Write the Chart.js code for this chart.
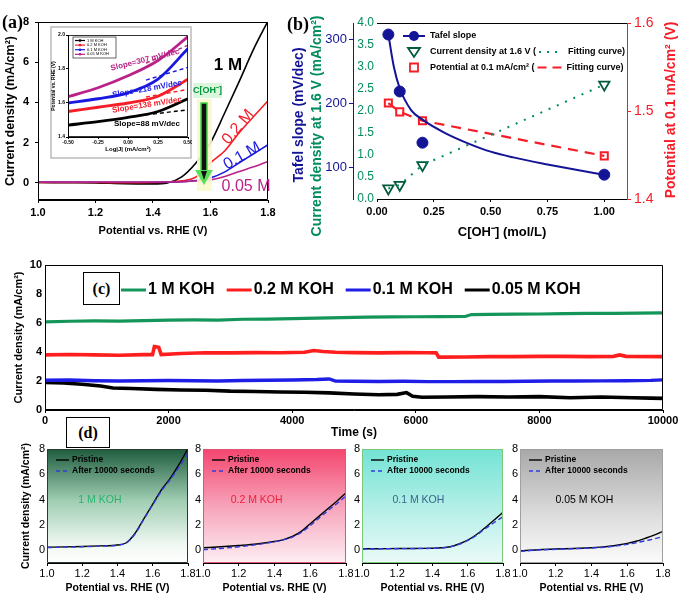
<!DOCTYPE html>
<html>
<head>
<meta charset="utf-8">
<script src="https://cdn.jsdelivr.net/npm/chart.js@4.4.1/dist/chart.umd.min.js"></script>
<style>
  body { margin: 0; background: #fff; }
  #fig { position: relative; width: 681px; height: 598px; overflow: hidden; }
  #fig canvas { position: absolute; }
  .tag { position: absolute; font: bold 18px "Liberation Serif", "Times New Roman", serif; color: #000; }
  .box { position: absolute; border: 1px solid #000; background: #fff; box-sizing: border-box;
         font: bold 16px "Liberation Serif", "Times New Roman", serif;
         display: flex; align-items: center; justify-content: center; }
</style>
</head>
<body>
<div id="fig">
  <canvas id="chartA" width="290" height="245" style="left:0;top:0"></canvas>
  <canvas id="chartInset" width="142" height="133" style="left:50px;top:26px"></canvas>
  <canvas id="chartB" width="396" height="245" style="left:285px;top:0"></canvas>
  <canvas id="chartC" width="681" height="185" style="left:0;top:255px"></canvas>
  <canvas id="chartD1" width="200" height="158" style="left:0;top:440px"></canvas>
  <canvas id="chartD2" width="165" height="158" style="left:188px;top:440px"></canvas>
  <canvas id="chartD3" width="163" height="158" style="left:347px;top:440px"></canvas>
  <canvas id="chartD4" width="176" height="158" style="left:505px;top:440px"></canvas>
  <div class="tag" style="left:2px;top:12px">(a)</div>
  <div class="tag" style="left:287px;top:14px">(b)</div>
  <div class="box" style="left:83px;top:272px;width:37px;height:33px">(c)</div>
  <div class="box" style="left:66px;top:417px;width:44px;height:31px">(d)</div>
</div>
<script>
// ---- (a) polarisation curves
const potA = [1.0, 1.1, 1.2, 1.3, 1.4, 1.45, 1.5, 1.55, 1.6, 1.65, 1.7, 1.75, 1.8];
const jA1M = [0.02, 0.01, 0.0, -0.04, -0.05, 0.0, 0.3, 1.0, 2.0, 3.5, 5.05, 6.65, 8.05];
const jA02 = [0.02, 0.02, 0.02, 0.01, 0.02, 0.04, 0.1, 0.3, 1.0, 1.6, 2.5, 3.3, 4.08];
const jA01 = [0.03, 0.03, 0.03, 0.03, 0.03, 0.04, 0.06, 0.12, 0.25, 0.55, 1.0, 1.45, 1.9];
const jA005 = [0.04, 0.04, 0.04, 0.04, 0.04, 0.05, 0.06, 0.1, 0.15, 0.32, 0.57, 0.8, 1.07];
const tickPot = [1.0, 1.2, 1.4, 1.6, 1.8];
const tickJ8 = [0, 2, 4, 6, 8];

// ---- (a) inset: Tafel plots
const logJ = [-0.5, -0.25, 0, 0.25, 0.5];
const eIn1M = [1.47, 1.49, 1.515, 1.55, 1.625];
const eIn02 = [1.55, 1.575, 1.60, 1.64, 1.74];
const eIn01 = [1.60, 1.625, 1.66, 1.74, 1.92];
const eIn005 = [1.637, 1.69, 1.76, 1.85, 1.99];
const fitInX = [0.15, 0.5];
const fitIn1M = [1.53, 1.56];
const fitIn02 = [1.635, 1.68];
const fitIn01 = [1.735, 1.81];
const fitIn005 = [1.835, 1.94];
const tickLog = [-0.5, -0.25, 0, 0.25, 0.5];
const tickE = [1.4, 1.6, 1.8, 2.0];

// ---- (b) vs concentration
const concB = [0.05, 0.1, 0.2, 1.0];
const tafelB = [307, 218, 138, 88];
const currB = [0.24, 0.32, 0.77, 2.6];
const potB = [1.509, 1.499, 1.489, 1.449];
const fitConc = [0.05, 0.075, 0.1, 0.15, 0.2, 0.3, 0.4, 0.5, 0.6, 0.75, 0.9, 1.0];
const fitTafel = [307, 255, 223, 189, 174, 153, 137, 124, 115, 104, 94, 88];
const tickConc = [0, 0.25, 0.5, 0.75, 1.0];
const tickTafel = [100, 200, 300];
const tickCurr = [0, 0.5, 1.0, 1.5, 2.0, 2.5, 3.0, 3.5, 4.0];
const tickPotB = [1.4, 1.5, 1.6];

// ---- (c) chronoamperometry
const tG = [0, 400, 800, 1200, 1600, 2000, 2400, 2800, 3200, 3600, 4000, 4400, 4800, 5200, 5600, 6000, 6400, 6800, 6900, 7200, 7600, 8000, 8400, 8800, 9200, 9600, 10000];
const vG = [6.08, 6.12, 6.14, 6.13, 6.17, 6.2, 6.21, 6.2, 6.26, 6.27, 6.3, 6.33, 6.37, 6.4, 6.42, 6.43, 6.44, 6.45, 6.58, 6.6, 6.61, 6.62, 6.64, 6.66, 6.67, 6.68, 6.7];
const tR = [0, 400, 800, 1200, 1600, 1740, 1770, 1840, 1880, 2200, 2600, 3000, 3400, 3800, 4200, 4350, 4500, 4700, 5000, 5400, 5800, 6200, 6330, 6370, 6800, 7200, 7600, 8000, 8400, 8800, 9200, 9300, 9400, 10000];
const vR = [3.8, 3.83, 3.8, 3.78, 3.82, 3.82, 4.38, 4.32, 3.82, 3.9, 3.95, 3.94, 3.96, 3.95, 3.98, 4.1, 4.03, 3.98, 3.96, 3.94, 3.96, 3.95, 3.94, 3.65, 3.66, 3.68, 3.68, 3.7, 3.7, 3.68, 3.7, 3.8, 3.7, 3.68];
const tB = [0, 400, 800, 1200, 1600, 2000, 2400, 2800, 3200, 3600, 4000, 4400, 4600, 4700, 5000, 5400, 5800, 6200, 6600, 7000, 7400, 7800, 8200, 8600, 9000, 9400, 9800, 10000];
const vB = [2.05, 2.07, 2.02, 2.0, 2.02, 2.03, 2.02, 2.0, 2.03, 2.05, 2.07, 2.1, 2.14, 1.99, 1.98, 1.97, 1.98, 1.96, 1.96, 1.97, 1.97, 1.98, 2.0, 2.0, 2.01, 2.02, 2.04, 2.08];
const tK = [0, 300, 600, 900, 1100, 1400, 1800, 2200, 2600, 3000, 3400, 3800, 4200, 4600, 5000, 5400, 5700, 5850, 5950, 6100, 6500, 7000, 7500, 8000, 8500, 9000, 9500, 9800, 10000];
const vK = [1.9, 1.86, 1.78, 1.65, 1.52, 1.48, 1.42, 1.38, 1.36, 1.3, 1.28, 1.24, 1.22, 1.18, 1.1, 1.05, 1.08, 1.2, 0.95, 0.88, 0.9, 0.92, 0.9, 0.92, 0.85, 0.9, 0.85, 0.82, 0.8];
const seriesC = ['1 M KOH', '0.2 M KOH', '0.1 M KOH', '0.05 M KOH'];
const tickTime = [0, 2000, 4000, 6000, 8000, 10000];
const tickJ10 = [0, 2, 4, 6, 8, 10];

// ---- (d) before / after stability
const potD = [1.0, 1.1, 1.2, 1.3, 1.4, 1.45, 1.5, 1.55, 1.6, 1.65, 1.7, 1.75, 1.8];
const d1Pri = [0.25, 0.27, 0.3, 0.35, 0.42, 0.6, 1.35, 2.5, 3.65, 4.8, 5.7, 6.8, 8.05];
const d1Aft = [0.22, 0.25, 0.28, 0.33, 0.4, 0.58, 1.3, 2.45, 3.6, 4.7, 5.6, 6.6, 7.65];
const d2Pri = [0.2, 0.28, 0.38, 0.5, 0.7, 0.85, 1.1, 1.5, 2.1, 2.7, 3.3, 3.9, 4.55];
const d2Aft = [0.05, 0.15, 0.28, 0.45, 0.68, 0.82, 1.05, 1.42, 1.95, 2.55, 3.15, 3.7, 4.3];
const d3Pri = [0.12, 0.13, 0.14, 0.15, 0.17, 0.2, 0.28, 0.5, 0.8, 1.25, 1.8, 2.4, 3.0];
const d3Aft = [0.1, 0.12, 0.13, 0.14, 0.16, 0.19, 0.27, 0.48, 0.78, 1.2, 1.72, 2.2, 2.65];
const d4Pri = [-0.05, 0.05, 0.1, 0.15, 0.2, 0.25, 0.32, 0.42, 0.55, 0.72, 0.95, 1.2, 1.5];
const d4Aft = [-0.08, 0.03, 0.08, 0.13, 0.18, 0.22, 0.28, 0.37, 0.47, 0.6, 0.75, 0.9, 1.08];

const FONT = '"Liberation Sans", Arial, sans-serif';
const RED = 'rgb(245,30,40)', BLUE = 'rgb(25,25,225)', MAG = 'rgb(185,35,135)';
const NAVY = 'rgb(20,20,150)', TEAL = 'rgb(0,140,95)', GREEN = 'rgb(20,150,90)';

function f(size, weight) { return { family: FONT, size: size, weight: weight || 'normal' }; }
function pts(xs, ys) { return xs.map((x, i) => ({ x: x, y: ys[i] })); }
function line(xs, ys, color, extra) {
  return Object.assign({
    data: pts(xs, ys), showLine: true, borderColor: color, backgroundColor: color,
    borderWidth: 1.6, pointRadius: 0, cubicInterpolationMode: 'monotone'
  }, extra || {});
}
function axis(o) {
  const col = o.color || '#000';
  const tl = o.tl === undefined ? 3 : o.tl;
  return {
    type: 'linear', position: o.pos, min: o.min, max: o.max, weight: o.weight || 0,
    afterFit: s => {
      if (o.pos === 'bottom') { s.height = o.size; s.paddingLeft = 0; s.paddingRight = 0; }
      else { s.width = o.size; s.paddingTop = 0; s.paddingBottom = 0; }
    },
    afterBuildTicks: s => { s.ticks = o.ticks.map(v => ({ value: v })); },
    grid: { drawOnChartArea: false, drawTicks: tl > 0, tickLength: tl, color: col },
    border: { display: o.border !== false, color: col },
    ticks: { color: col, font: o.font, padding: o.pad === undefined ? 3 : o.pad,
             callback: o.fmt || (v => v), maxRotation: 0, autoSkip: false },
    title: o.title ? { display: true, text: o.title, color: col, font: o.tfont, padding: o.tpad || 0 }
                   : { display: false }
  };
}
function opts(scales, pad, frameOpts) {
  return {
    responsive: false, animation: false, events: [],
    layout: { padding: pad }, scales: scales,
    plugins: { legend: { display: false }, tooltip: { enabled: false }, frame: frameOpts || {} }
  };
}
function txt(ctx, s, x, y, font, color, rot, align) {
  ctx.save();
  ctx.translate(x, y);
  if (rot) ctx.rotate(rot * Math.PI / 180);
  ctx.font = font; ctx.fillStyle = color;
  ctx.textAlign = align || 'center'; ctx.textBaseline = 'middle';
  ctx.fillText(s, 0, 0);
  ctx.restore();
}

// frame round the plot area, optional gradient background
Chart.register({
  id: 'frame',
  beforeDatasetsDraw(chart, args, o) {
    const a = chart.chartArea, ctx = chart.ctx;
    if (!o.grad) return;
    const g = ctx.createLinearGradient(0, a.top, 0, a.bottom);
    o.grad.forEach(s => g.addColorStop(s[0], s[1]));
    ctx.save(); ctx.fillStyle = g;
    ctx.fillRect(a.left, a.top, a.right - a.left, a.bottom - a.top);
    ctx.restore();
  },
  afterDatasetsDraw(chart, args, o) {
    const a = chart.chartArea, ctx = chart.ctx;
    ctx.save(); ctx.strokeStyle = o.color || '#000'; ctx.lineWidth = o.width || 1;
    ctx.beginPath();
    if (o.topOnly) { ctx.moveTo(a.left, a.top + 0.5); ctx.lineTo(a.right, a.top + 0.5); }
    else ctx.rect(a.left + 0.5, a.top + 0.5, a.right - a.left - 1, a.bottom - a.top - 1);
    ctx.stroke(); ctx.restore();
  }
});

// ================= (a)
const notesA = {
  id: 'notesA',
  afterDatasetsDraw(chart) {
    const ctx = chart.ctx;
    ctx.save();
    ctx.fillStyle = 'rgba(250,250,205,0.9)';
    ctx.fillRect(197, 99, 15, 92);
    ctx.fillStyle = '#111'; ctx.strokeStyle = 'rgb(70,215,70)'; ctx.lineWidth = 1.5;
    ctx.fillRect(201, 103, 6, 68); ctx.strokeRect(201, 103, 6, 68);
    ctx.beginPath(); ctx.moveTo(195, 170); ctx.lineTo(213, 170); ctx.lineTo(204, 185); ctx.closePath();
    ctx.fillStyle = 'rgb(90,225,90)'; ctx.fill();
    ctx.beginPath(); ctx.moveTo(201, 171); ctx.lineTo(207, 171); ctx.lineTo(204, 180); ctx.closePath();
    ctx.fillStyle = '#111'; ctx.fill();
    ctx.fillStyle = 'rgba(215,245,215,0.9)';
    ctx.fillRect(193, 83, 29, 15);
    ctx.restore();
    txt(ctx, 'C[OH⁻]', 207.5, 90.5, 'bold 9px ' + FONT, 'rgb(0,150,60)');
    txt(ctx, '1 M', 228, 65, 'bold 17px ' + FONT, '#000');
    txt(ctx, '0.2 M', 238, 127, '16px ' + FONT, RED, -50);
    txt(ctx, '0.1 M', 242, 156, '16px ' + FONT, BLUE, -30);
    txt(ctx, '0.05 M', 246, 187, '16px ' + FONT, MAG, 0);
  }
};
new Chart(document.getElementById('chartA'), {
  type: 'scatter',
  data: { datasets: [
    line(potA, jA005, MAG), line(potA, jA01, BLUE), line(potA, jA02, RED), line(potA, jA1M, '#000')
  ] },
  options: opts({
    x: axis({ pos: 'bottom', min: 1.0, max: 1.8, ticks: tickPot, size: 45, fmt: v => v.toFixed(1),
              font: f(11, 'bold'), title: 'Potential vs. RHE (V)', tfont: f(11, 'bold'), tpad: { top: 0, bottom: 7 } }),
    y: axis({ pos: 'left', min: -0.85, max: 8, ticks: tickJ8, size: 38, font: f(11, 'bold'), pad: 6,
              title: 'Current density (mA/cm²)', tfont: f(12.5, 'bold'), tpad: { top: 3, bottom: 0 } })
  }, { top: 22, right: 22, left: 0, bottom: 0 }),
  plugins: [notesA]
});

// ================= (a) inset
const insetDeco = {
  id: 'insetDeco',
  beforeDraw(chart) {
    const ctx = chart.ctx;
    ctx.save();
    ctx.fillStyle = '#fff'; ctx.fillRect(0, 0, chart.width, chart.height);
    ctx.strokeStyle = '#bbb'; ctx.lineWidth = 1.5; ctx.strokeRect(1, 1, chart.width - 2, chart.height - 2);
    ctx.restore();
  },
  afterDatasetsDraw(chart) {
    const ctx = chart.ctx;
    ctx.save();
    ctx.fillStyle = '#fff'; ctx.strokeStyle = '#000'; ctx.lineWidth = 0.6;
    ctx.fillRect(23, 11, 43, 21); ctx.strokeRect(23, 11, 43, 21);
    const names = ['1 M KOH', '0.2 M KOH', '0.1 M KOH', '0.05 M KOH'];
    const cols = ['#000', RED, BLUE, MAG];
    names.forEach((n, i) => {
      const y = 14.5 + i * 4.6;
      ctx.strokeStyle = cols[i]; ctx.lineWidth = 1.2;
      ctx.beginPath(); ctx.moveTo(25, y); ctx.lineTo(35, y); ctx.stroke();
      ctx.fillStyle = cols[i]; ctx.beginPath(); ctx.arc(30, y, 1.3, 0, Math.PI * 2); ctx.fill();
      txt(ctx, n, 37, y, '4px ' + FONT, '#000', 0, 'left');
    });
    ctx.restore();
    const sf = 'bold 8px ' + FONT;
    txt(ctx, 'Slope=307 mV/dec', 95, 34, sf, MAG, -14);
    txt(ctx, 'Slope=218 mV/dec', 97, 63, sf, BLUE, -10);
    txt(ctx, 'Slope=138 mV/dec', 97, 79, sf, RED, -9);
    txt(ctx, 'Slope=88 mV/dec', 97, 98, sf, '#000', 0);
  }
};
const fitStyle = { borderDash: [4, 3], borderWidth: 1.4, cubicInterpolationMode: 'default' };
new Chart(document.getElementById('chartInset'), {
  type: 'scatter',
  data: { datasets: [
    line(logJ, eIn1M, '#000', { borderWidth: 2.8 }),
    line(logJ, eIn02, RED, { borderWidth: 2.8 }),
    line(logJ, eIn01, BLUE, { borderWidth: 2.8 }),
    line(logJ, eIn005, MAG, { borderWidth: 2.8 }),
    line(fitInX, fitIn1M, '#000', fitStyle),
    line(fitInX, fitIn02, RED, fitStyle),
    line(fitInX, fitIn01, BLUE, fitStyle),
    line(fitInX, fitIn005, MAG, fitStyle)
  ] },
  options: opts({
    x: axis({ pos: 'bottom', min: -0.5, max: 0.5, ticks: tickLog, size: 22, fmt: v => v.toFixed(2),
              font: f(5, 'bold'), tl: 2, pad: 1, title: 'Log|J| (mA/cm²)', tfont: f(6, 'bold'), tpad: { top: 0, bottom: 6 } }),
    y: axis({ pos: 'left', min: 1.4, max: 2.0, ticks: tickE, size: 18, fmt: v => v.toFixed(1),
              font: f(5, 'bold'), tl: 2, pad: 1, title: 'Potential vs. RHE (V)', tfont: f(5, 'bold'), tpad: { top: 1, bottom: 0 } })
  }, { top: 9, right: 4, left: 0, bottom: 0 }, { width: 0.8 }),
  plugins: [insetDeco]
});

// ================= (b)
const notesB = {
  id: 'notesB',
  afterDatasetsDraw(chart) {
    const ctx = chart.ctx;
    const tf = 'bold 14px ' + FONT;
    txt(ctx, 'Tafel slope (mV/dec)', 14, 115, tf, NAVY, -90);
    txt(ctx, 'Current density at 1.6 V (mA/cm²)', 32, 126, tf, TEAL, -90);
    txt(ctx, 'Potential at 0.1 mA/cm² (V)', 386, 110, tf, RED, -90);
    // legend
    const lf = 'bold 9px ' + FONT;
    ctx.save();
    ctx.font = lf;
    const y = 36;
    ctx.strokeStyle = NAVY; ctx.lineWidth = 2;
    ctx.beginPath(); ctx.moveTo(118, y); ctx.lineTo(140, y); ctx.stroke();
    ctx.fillStyle = NAVY; ctx.beginPath(); ctx.arc(129, y, 5, 0, Math.PI * 2); ctx.fill();
    txt(ctx, 'Tafel slope', 145, y, lf, '#000', 0, 'left');
    const rows = [
      { y: 52, a: 'Current density at 1.6 V (', col: 'rgb(0,90,60)', dash: [2, 6] },
      { y: 67.5, a: 'Potential at 0.1 mA/cm² (', col: RED, dash: [9, 6] }
    ];
    rows.forEach((r, i) => {
      ctx.strokeStyle = r.col; ctx.lineWidth = 1.8; ctx.fillStyle = '#fff';
      ctx.beginPath();
      if (i === 0) { ctx.moveTo(123, r.y - 4); ctx.lineTo(135, r.y - 4); ctx.lineTo(129, r.y + 5); ctx.closePath(); }
      else ctx.rect(125, r.y - 4, 8, 8);
      ctx.fill(); ctx.stroke();
      txt(ctx, r.a, 145, r.y, lf, '#000', 0, 'left');
      const x0 = 145 + ctx.measureText(r.a).width + 3;
      ctx.setLineDash(r.dash); ctx.lineWidth = 2;
      ctx.strokeStyle = i === 0 ? TEAL : RED;
      ctx.beginPath(); ctx.moveTo(x0, r.y); ctx.lineTo(x0 + 24, r.y); ctx.stroke();
      ctx.setLineDash([]);
      txt(ctx, 'Fitting curve)', x0 + 29, r.y, lf, '#000', 0, 'left');
    });
    ctx.restore();
  }
};
new Chart(document.getElementById('chartB'), {
  type: 'scatter',
  data: { datasets: [
    line(fitConc, fitTafel, NAVY, { yAxisID: 'yT', borderWidth: 2 }),
    { data: pts(concB, tafelB), yAxisID: 'yT', pointRadius: 5.5, pointBackgroundColor: NAVY, pointBorderColor: NAVY },
    line(concB, currB, TEAL, { yAxisID: 'yC', borderDash: [2, 7], borderWidth: 2, cubicInterpolationMode: 'default' }),
    { data: pts(concB, currB), yAxisID: 'yC', pointStyle: 'triangle', pointRotation: 180, pointRadius: 6,
      pointBackgroundColor: '#fff', pointBorderColor: 'rgb(0,90,60)', pointBorderWidth: 1.8 },
    line(concB, potB, RED, { yAxisID: 'yP', borderDash: [10, 7], borderWidth: 2.2, cubicInterpolationMode: 'default' }),
    { data: pts(concB, potB), yAxisID: 'yP', pointStyle: 'rect', pointRadius: 5,
      pointBackgroundColor: '#fff', pointBorderColor: RED, pointBorderWidth: 2 }
  ] },
  options: opts({
    x: axis({ pos: 'bottom', min: 0, max: 1.1, ticks: tickConc, size: 46, fmt: v => v.toFixed(2),
              font: f(11, 'bold'), title: 'C[OH⁻] (mol/L)', tfont: f(13, 'bold'), tpad: { top: 0, bottom: 5 } }),
    yT: axis({ pos: 'left', weight: 2, min: 50, max: 325, ticks: tickTafel, size: 68, color: NAVY,
               font: f(13), tl: 4, pad: 2 }),
    yC: axis({ pos: 'left', weight: 1, min: 0, max: 4, ticks: tickCurr, size: 24, color: TEAL,
               font: f(12), tl: 0, pad: 3, border: false, fmt: v => v.toFixed(1) }),
    yP: axis({ pos: 'right', min: 1.4, max: 1.6, ticks: tickPotB, size: 54, color: RED,
               font: f(14), tl: 4, pad: 3, fmt: v => v.toFixed(1) })
  }, { top: 23, right: 0, left: 0, bottom: 0 }, { topOnly: true }),
  plugins: [notesB]
});

// ================= (c)
const colsC = [GREEN, 'rgb(255,30,30)', 'rgb(30,30,230)', '#000'];
const legendC = {
  id: 'legendC',
  afterDatasetsDraw(chart) {
    const ctx = chart.ctx;
    const lf = 'bold 16px ' + FONT;
    ctx.save(); ctx.font = lf;
    let x = 121;
    const y = 35;
    seriesC.forEach((n, i) => {
      ctx.strokeStyle = colsC[i]; ctx.lineWidth = 3;
      ctx.beginPath(); ctx.moveTo(x, y); ctx.lineTo(x + 25, y); ctx.stroke();
      txt(ctx, n, x + 27, y, lf, '#000', 0, 'left');
      x += 27 + ctx.measureText(n).width + 12;
    });
    ctx.restore();
  }
};
new Chart(document.getElementById('chartC'), {
  type: 'scatter',
  data: { datasets: [
    line(tG, vG, colsC[0], { borderWidth: 3.2, cubicInterpolationMode: 'default' }),
    line(tR, vR, colsC[1], { borderWidth: 3.6, cubicInterpolationMode: 'default' }),
    line(tB, vB, colsC[2], { borderWidth: 3.4, cubicInterpolationMode: 'default' }),
    line(tK, vK, colsC[3], { borderWidth: 3.6, cubicInterpolationMode: 'default' })
  ] },
  options: opts({
    x: axis({ pos: 'bottom', min: 0, max: 10000, ticks: tickTime, size: 30, font: f(11, 'bold'), pad: 1,
              title: 'Time (s)', tfont: f(12, 'bold'), tpad: { top: 0, bottom: 0 } }),
    y: axis({ pos: 'left', min: 0, max: 10, ticks: tickJ10, size: 45, font: f(11, 'bold'), tl: 0, pad: 3,
              title: 'Current density (mA/cm²)', tfont: f(11, 'bold'), tpad: { top: 12, bottom: 0 } })
  }, { top: 10, right: 18, left: 0, bottom: 0 }),
  plugins: [legendC]
});

// ================= (d)
function panelD(id, pri, aft, grad, frameCol, label, labelCol, labelX, rightPad, yTitle) {
  const notes = {
    id: 'notes' + id,
    afterDatasetsDraw(chart) {
      const ctx = chart.ctx, a = chart.chartArea;
      const lf = 'bold 8.5px ' + FONT;
      ctx.save();
      ctx.lineWidth = 1.4; ctx.strokeStyle = '#000';
      ctx.beginPath(); ctx.moveTo(a.left + 9, a.top + 11); ctx.lineTo(a.left + 22, a.top + 11); ctx.stroke();
      ctx.strokeStyle = 'rgb(50,60,220)'; ctx.setLineDash([4, 3]);
      ctx.beginPath(); ctx.moveTo(a.left + 9, a.top + 22); ctx.lineTo(a.left + 22, a.top + 22); ctx.stroke();
      ctx.restore();
      txt(ctx, 'Pristine', a.left + 25, a.top + 11, lf, '#000', 0, 'left');
      txt(ctx, 'After 10000 seconds', a.left + 25, a.top + 22, lf, '#000', 0, 'left');
      txt(ctx, label, chart.scales.x.getPixelForValue(labelX), chart.scales.y.getPixelForValue(4),
          '10.5px ' + FONT, labelCol);
    }
  };
  new Chart(document.getElementById(id), {
    type: 'scatter',
    data: { datasets: [
      line(potD, aft, 'rgb(50,60,220)', { borderDash: [5, 3], borderWidth: 1.4 }),
      line(potD, pri, '#000', { borderWidth: 1.4 })
    ] },
    options: opts({
      x: axis({ pos: 'bottom', min: 1.0, max: 1.8, ticks: tickPot, size: 35, fmt: v => v.toFixed(1),
                font: f(11), tl: 3, pad: 1, title: 'Potential vs. RHE (V)', tfont: f(10.5, 'bold'), tpad: { top: 0, bottom: 4 } }),
      y: axis({ pos: 'left', min: -1, max: 8, ticks: tickJ8, size: yTitle ? 47 : 15, font: f(11), tl: 0, pad: 2,
                title: yTitle, tfont: f(10.5, 'bold'), tpad: { top: 20, bottom: 0 } })
    }, { top: 9, right: rightPad, left: 0, bottom: 0 }, { color: frameCol, grad: grad }),
    plugins: [notes]
  });
}
panelD('chartD1', d1Pri, d1Aft, [[0, '#1e5c3e'], [0.45, '#9fcdb2'], [0.85, '#f2f9f4'], [1, '#ffffff']],
       '#2a3a30', '1 M KOH', 'rgb(40,180,110)', 1.3, 12, 'Current density (mA/cm²)');
panelD('chartD2', d2Pri, d2Aft, [[0, '#f4456e'], [0.5, '#f7a3ba'], [1, '#fdeef3']],
       '#e05575', '0.2 M KOH', 'rgb(240,30,60)', 1.3, 7);
panelD('chartD3', d3Pri, d3Aft, [[0, '#72e3d4'], [0.6, '#bdf1ea'], [1, '#eafaf8']],
       '#7bc77b', '0.1 M KOH', 'rgb(60,100,140)', 1.32, 7);
panelD('chartD4', d4Pri, d4Aft, [[0, '#a8a8a8'], [0.6, '#dedede'], [1, '#fbfbfb']],
       '#a0a0a0', '0.05 M KOH', '#000', 1.36, 18);
</script>
</body>
</html>
